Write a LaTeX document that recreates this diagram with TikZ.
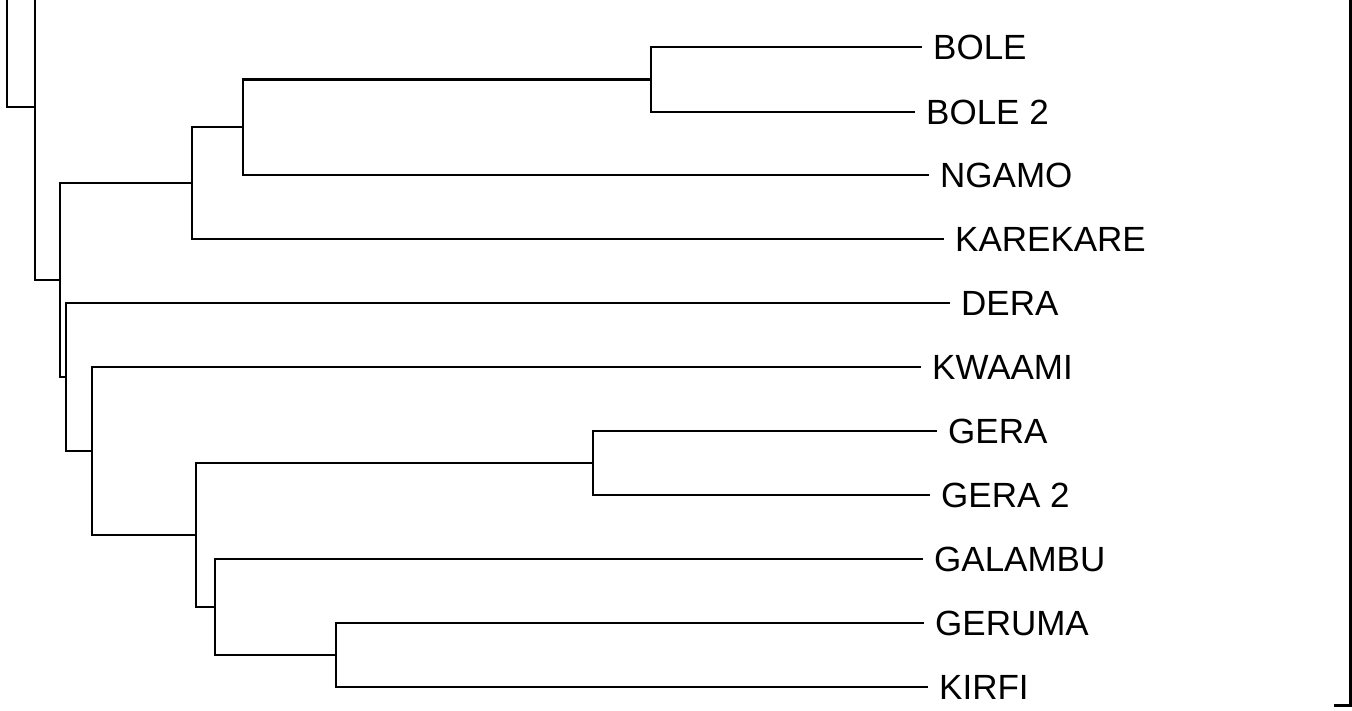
\documentclass[tikz,border=0pt]{standalone}
\usepackage{fontspec}
\setmainfont{Liberation Sans}
\begin{document}
\begin{tikzpicture}[x=1pt,y=-1pt,
  branch/.style={line width=2.3pt,line join=miter},
  leafedge/.style={branch,shorten >=11pt},
  leaf/.style={anchor=west,inner sep=0pt,font=\fontsize{35}{40}\selectfont}]
\useasboundingbox (0,0) rectangle (1352,710);
\clip (0,0) rectangle (1352,710);
% leaves
\node[leaf] (bole)  at (933,47)  {BOLE};
\node[leaf] (bole2) at (926,112) {BOLE 2};
\node[leaf] (ngamo) at (940,175) {NGAMO};
\node[leaf] (kare)  at (955,239) {KAREKARE};
\node[leaf] (dera)  at (961,303) {DERA};
\node[leaf] (kwaami) at (932,367) {KWAAMI};
\node[leaf] (gera)  at (948,431) {GERA};
\node[leaf] (gera2) at (941,495) {GERA 2};
\node[leaf] (galambu) at (934,559) {GALAMBU};
\node[leaf] (geruma) at (935,623) {GERUMA};
\node[leaf] (kirfi) at (939,687) {KIRFI};
% internal nodes
\coordinate (n1) at (651,79.5);
\coordinate (n2) at (243,127);
\coordinate (n3) at (192,183);
\coordinate (n9) at (336,655);
\coordinate (n8) at (215,607);
\coordinate (n7) at (593,463);
\coordinate (n6) at (196,535);
\coordinate (n5) at (92,451);
\coordinate (n4) at (66,377);
\coordinate (n10) at (60,280);
\coordinate (n11) at (35,107);
\coordinate (t11) at (35,-10);
\coordinate (t12) at (7,-10);
\coordinate (rt) at (1350.5,-10);
\coordinate (rb) at (1350.5,705);
\coordinate (re) at (1334,705);
% edges
\draw[leafedge] (n1) |- (bole.west);
\draw[leafedge] (n1) |- (bole2.west);
\draw[branch] (n2) |- (n1);
\draw[leafedge] (n2) |- (ngamo.west);
\draw[branch] (n3) |- (n2);
\draw[leafedge] (n3) |- (kare.west);
\draw[leafedge] (n7) |- (gera.west);
\draw[leafedge] (n7) |- (gera2.west);
\draw[leafedge] (n9) |- (geruma.west);
\draw[leafedge] (n9) |- (kirfi.west);
\draw[leafedge] (n8) |- (galambu.west);
\draw[branch] (n8) |- (n9);
\draw[branch] (n6) |- (n7);
\draw[branch] (n6) |- (n8);
\draw[leafedge] (n5) |- (kwaami.west);
\draw[branch] (n5) |- (n6);
\draw[leafedge] (n4) |- (dera.west);
\draw[branch] (n4) |- (n5);
\draw[branch] (n10) |- (n3);
\draw[branch] (n10) |- (n4);
\draw[branch] (n11) |- (n10);
\draw[branch] (n11) -- (t11);
\draw[branch] (t12) |- (n11);
\draw[branch,line width=3pt] (rt) |- (re);
\end{tikzpicture}
\end{document}
